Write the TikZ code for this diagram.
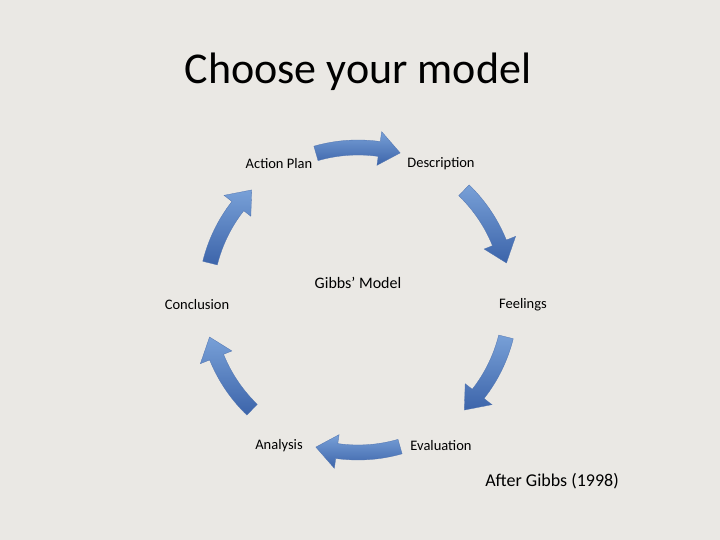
\documentclass[tikz,border=0pt]{standalone}
\usepackage{fontspec}
\setmainfont{Carlito}
\definecolor{bg}{RGB}{234,232,228}
\definecolor{atop}{RGB}{120,160,215}
\definecolor{abot}{RGB}{60,100,170}
\definecolor{aline}{RGB}{80,115,175}
\begin{document}
\begin{tikzpicture}[x=1pt,y=1pt,
  lbl/.style={font=\fontsize{14.5}{16}\selectfont},
  arrowfill/.style={top color=atop,bottom color=abot,draw=aline,line width=0.3pt}]
\fill[bg] (0,0) rectangle (720,540);
\useasboundingbox (0,0) rectangle (720,540);
\node[font=\fontsize{44}{50}\selectfont] (title) at (358,468) {Choose your model};
\node[lbl] (desc) at (441,376) {Description};
\node[lbl] (feel) at (523,235) {Feelings};
\node[lbl] (eval) at (441,94) {Evaluation};
\node[lbl] (anal) at (279,94) {Analysis};
\node[lbl] (conc) at (197,235) {Conclusion};
\node[lbl] (act) at (279,376) {Action Plan};
\node[font=\fontsize{16}{18}\selectfont] (gm) at (358,257) {Gibbs’ Model};
\node[font=\fontsize{18}{20}\selectfont] (after) at (552,59) {After Gibbs (1998)};
\begin{scope}[shift={(358,240)}]
\foreach \c in {90,30,-30,-90,-150,150}{
  \pgfmathsetmacro{\s}{\c+16}
  \pgfmathsetmacro{\e}{\c-16}
  \pgfmathsetmacro{\m}{\c-8}
  \path[arrowfill] (\s:160) arc[start angle=\s,end angle=\m,radius=160] -- (\m:170) -- (\e:153) -- (\m:136) -- (\m:145) arc[start angle=\m,end angle=\s,radius=145] -- cycle;
}
\end{scope}
\end{tikzpicture}
\end{document}
